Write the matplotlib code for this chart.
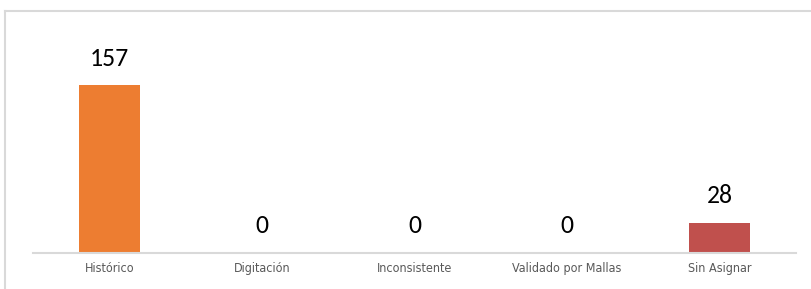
import matplotlib
matplotlib.use("Agg")
import matplotlib.pyplot as plt
from matplotlib.lines import Line2D

categories = ["Histórico", "Digitación", "Inconsistente", "Validado por Mallas", "Sin Asignar"]
values = [157, 0, 0, 0, 28]
colors = ["#ED7D31", "#ED7D31", "#ED7D31", "#ED7D31", "#C0504D"]

W, H = 811, 289
fig = plt.figure(figsize=(W / 100, H / 100), dpi=100)
fig.patch.set_facecolor("white")

# outer chart frame (only left and top visible)
fig.add_artist(Line2D([5 / W, 5 / W], [0, 1 - 11 / H], color="#D9D9D9", lw=1.5))
fig.add_artist(Line2D([5 / W, 1], [1 - 11 / H, 1 - 11 / H], color="#D9D9D9", lw=1.5))

ax = fig.add_axes([33 / W, (H - 252.5) / H, (796 - 33) / W, 232 / H])
ax.set_xlim(-0.5, len(categories) - 0.5)
ax.set_ylim(0, 232 / 1.0637)

x = list(range(len(categories)))
ax.bar(x, values, width=0.4, color=colors, zorder=2)

for xi, v in zip(x, values):
    ax.annotate(str(v), (xi, v), xytext=(0, 11.5), textcoords="offset points",
                ha="center", va="bottom", fontsize=18.5,
                family=["Carlito", "Lato", "DejaVu Sans"], color="black")

for s in ["top", "right", "left"]:
    ax.spines[s].set_visible(False)
ax.spines["bottom"].set_color("#D9D9D9")
ax.spines["bottom"].set_linewidth(1.5)
ax.set_yticks([])
ax.set_xticks(x)
ax.set_xticklabels(categories, fontsize=9, color="#595959",
                   family="DejaVu Sans", fontstretch="condensed")
ax.tick_params(axis="x", length=0, pad=6.5)

fig.savefig("out.png", dpi=100, facecolor="white")
